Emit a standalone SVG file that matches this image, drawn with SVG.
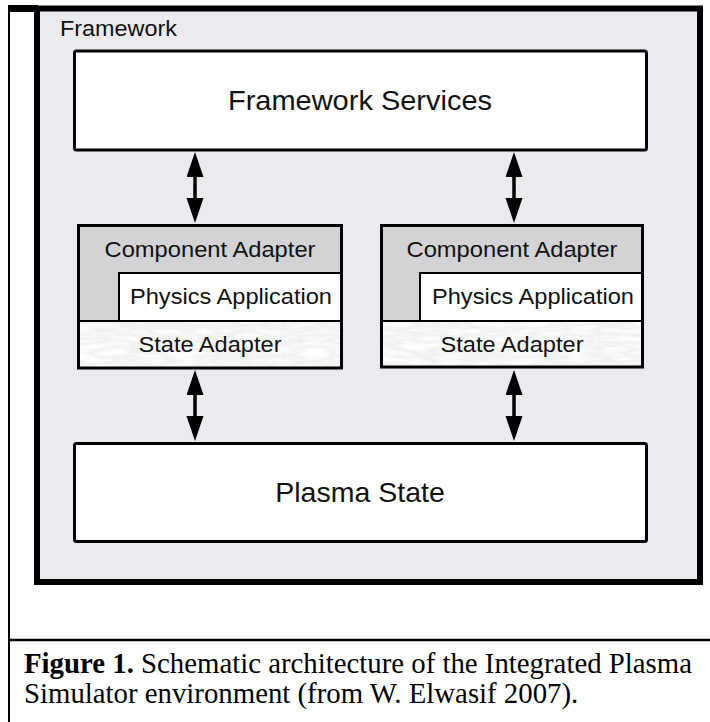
<svg xmlns="http://www.w3.org/2000/svg" width="710" height="722" viewBox="0 0 710 722">
  <style>
    .sans { font-family: "Liberation Sans", Arial, sans-serif; fill: #111; }
    .big { font-size: 28.5px; }
    .mid { font-size: 22.5px; }
    .cap { font-family: "Liberation Serif", "Times New Roman", serif; font-size: 28.8px; fill: #000; }
    .box { fill: #fff; stroke: #000; stroke-width: 3; }
    .inner { stroke: #000; stroke-width: 2; }
    .shaft { stroke: #000; stroke-width: 3.5; fill: none; marker-start: url(#head); marker-end: url(#head); }
  </style>
  <defs>
    <marker id="head" markerUnits="userSpaceOnUse" markerWidth="26" markerHeight="18" refX="5" refY="8.5" orient="auto-start-reverse">
      <path d="M0,0 L25,8.5 L0,17 z" fill="#000"/>
    </marker>
    <!-- soft marbled fill for the state adapter band -->
    <filter id="marble" x="0" y="0" width="100%" height="100%">
      <feTurbulence type="turbulence" baseFrequency="0.03 0.14" numOctaves="3" seed="7" result="t"/>
      <feColorMatrix in="t" type="matrix" values="0.22 0 0 0 0.86  0.22 0 0 0 0.86  0.22 0 0 0 0.87  0 0 0 0 1" result="g"/>
      <feComposite in="g" in2="SourceGraphic" operator="in"/>
    </filter>
  </defs>

  <rect width="710" height="722" fill="#fff"/>

  <!-- figure frame and caption divider -->
  <g id="figure-frame">
    <path d="M9,722 V5" stroke="#000" stroke-width="2" fill="none"/>
    <rect x="8" y="5" width="30" height="7" fill="#000"/>
    <path d="M9,640 H710" stroke="#000" stroke-width="2.5" fill="none"/>
  </g>

  <!-- framework container -->
  <g id="framework">
    <rect x="37" y="8.5" width="663" height="573.5" fill="#ebeaee" stroke="#000" stroke-width="6"/>
    <text class="sans" x="60" y="36" font-size="22" textLength="117" lengthAdjust="spacingAndGlyphs">Framework</text>
  </g>

  <g id="framework-services">
    <rect class="box" x="74.5" y="51" width="572" height="99" rx="2"/>
    <text class="sans big" x="360" y="110" text-anchor="middle" textLength="264" lengthAdjust="spacingAndGlyphs">Framework Services</text>
  </g>

  <!-- left component -->
  <g id="component-left">
    <rect x="78.5" y="225.5" width="263" height="142.5" fill="#d3d2d4"/>
    <rect x="78.5" y="321" width="263" height="47" fill="#fff" filter="url(#marble)"/>
    <rect class="inner" x="119" y="273" width="222.5" height="48" fill="#fff"/>
    <line class="inner" x1="78.5" y1="321" x2="341.5" y2="321"/>
    <rect x="78.5" y="225.5" width="263" height="142.5" fill="none" stroke="#000" stroke-width="3"/>
    <text class="sans mid" x="210" y="257" text-anchor="middle" textLength="211" lengthAdjust="spacingAndGlyphs">Component Adapter</text>
    <text class="sans mid" x="130" y="304" textLength="202" lengthAdjust="spacingAndGlyphs">Physics Application</text>
    <text class="sans mid" x="210" y="352" text-anchor="middle" textLength="143" lengthAdjust="spacingAndGlyphs">State Adapter</text>
  </g>

  <!-- right component -->
  <g id="component-right">
    <rect x="381.5" y="225.5" width="261" height="141.5" fill="#d3d2d4"/>
    <rect x="381.5" y="321" width="261" height="46" fill="#fff" filter="url(#marble)"/>
    <rect class="inner" x="420" y="273" width="222.5" height="48" fill="#fff"/>
    <line class="inner" x1="381.5" y1="321" x2="642.5" y2="321"/>
    <rect x="381.5" y="225.5" width="261" height="141.5" fill="none" stroke="#000" stroke-width="3"/>
    <text class="sans mid" x="512" y="257" text-anchor="middle" textLength="211" lengthAdjust="spacingAndGlyphs">Component Adapter</text>
    <text class="sans mid" x="432" y="304" textLength="202" lengthAdjust="spacingAndGlyphs">Physics Application</text>
    <text class="sans mid" x="512" y="352" text-anchor="middle" textLength="143" lengthAdjust="spacingAndGlyphs">State Adapter</text>
  </g>

  <g id="plasma-state">
    <rect class="box" x="74.5" y="443.5" width="572" height="98" rx="2"/>
    <text class="sans big" x="360" y="502" text-anchor="middle">Plasma State</text>
  </g>

  <!-- two-way connectors -->
  <g id="connectors">
    <line class="shaft" x1="195" y1="172" x2="195" y2="203"/>
    <line class="shaft" x1="514" y1="172" x2="514" y2="203"/>
    <line class="shaft" x1="195" y1="390" x2="195" y2="421"/>
    <line class="shaft" x1="514" y1="390" x2="514" y2="421"/>
  </g>

  <g id="caption">
    <text class="cap" x="24" y="673"><tspan font-weight="bold">Figure 1.</tspan> Schematic architecture of the Integrated Plasma</text>
    <text class="cap" x="24" y="703">Simulator environment (from W. Elwasif 2007).</text>
  </g>
</svg>
